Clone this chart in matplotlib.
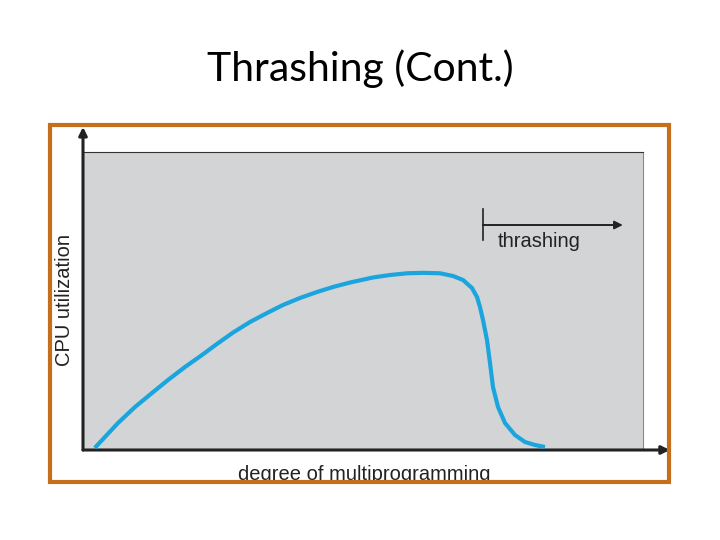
import matplotlib
matplotlib.use("Agg")
import matplotlib.pyplot as plt
from matplotlib.patches import Rectangle

# curve (x: degree of multiprogramming, y: CPU utilization, 0-100)
curveX = [2.1, 6.25, 9.29, 12.32, 15.18, 18.21, 21.25, 23.93, 26.79, 29.82, 32.86,
          35.71, 38.75, 41.79, 44.64, 47.68, 51.79, 54.82, 57.86, 60.71, 63.75,
          66.07, 67.86, 69.46, 70.36, 70.89, 71.43, 72.14, 72.68, 73.21, 74.11,
          75.36, 77.14, 78.93, 80.71, 82.5]
curveY = [0.7, 9.06, 14.43, 19.13, 23.49, 27.85, 31.88, 35.6, 39.4, 42.95, 45.97,
          48.66, 51.01, 53.02, 54.70, 56.2, 57.9, 58.72, 59.3, 59.45, 59.3,
          58.39, 57.05, 54.36, 51.34, 47.99, 43.62, 36.91, 29.19, 21.14, 14.43,
          9.06, 5.03, 2.68, 1.68, 1.0]

thrashStart = 71.4
thrashEnd = 96.4
thrashY = 75.5

fig = plt.figure(figsize=(7.2, 5.4), dpi=100)
ax = fig.add_axes([83/720, 90/540, 560/720, 298/540])
ax.set_xlim(0, 100)
ax.set_ylim(0, 100)
ax.set_facecolor('#d3d4d6')
for s in ['left', 'bottom']:
    ax.spines[s].set_visible(False)
ax.spines['top'].set_color('#333333')
ax.spines['top'].set_linewidth(0.8)
ax.spines['right'].set_color('#8a8a8a')
ax.spines['right'].set_linewidth(0.8)
ax.set_xticks([])
ax.set_yticks([])

# axes arrows
ax.annotate('', xy=(0, 108.4), xytext=(0, 0), annotation_clip=False,
            arrowprops=dict(arrowstyle='-|>', color='#222222', lw=2.2,
                            mutation_scale=12, shrinkA=0, shrinkB=0))
ax.annotate('', xy=(104.8, 0), xytext=(0, 0), annotation_clip=False,
            arrowprops=dict(arrowstyle='-|>', color='#222222', lw=2.2,
                            mutation_scale=12, shrinkA=0, shrinkB=0))

ax.plot(curveX, curveY, color='#1ba5de', lw=3, solid_capstyle='butt',
        solid_joinstyle='round', zorder=3)

# thrashing marker
ax.plot([thrashStart, thrashStart], [70.5, 80.9], color='#222222', lw=1.2)
ax.annotate('', xy=(thrashEnd, thrashY), xytext=(thrashStart, thrashY),
            arrowprops=dict(arrowstyle='-|>', color='#222222', lw=1.4,
                            mutation_scale=12, shrinkA=0, shrinkB=0))
ax.text(74.1, 70.1, 'thrashing', fontsize=14.5, family='Liberation Sans',
        color='#222222', va='center', ha='left')

fig.text(364/720, 1 - 475/540, 'degree of multiprogramming', fontsize=14.5,
         family='Liberation Sans', color='#222222', ha='center', va='center')
fig.text(64/720, 1 - 300/540, 'CPU utilization', fontsize=14.5, rotation=90,
         family='Liberation Sans', color='#222222', ha='center', va='center')

fig.text(360/720, 1 - 69/540, 'Thrashing (Cont.)', fontsize=29.5, family='Lato',
         color='black', ha='center', va='center')

# orange frame
fig.patches.append(Rectangle((50/720, 58/540), 619/720, 357/540, fill=False,
                             edgecolor='#c46f1b', lw=3, transform=fig.transFigure,
                             zorder=10))

fig.savefig('out.png', dpi=100)
